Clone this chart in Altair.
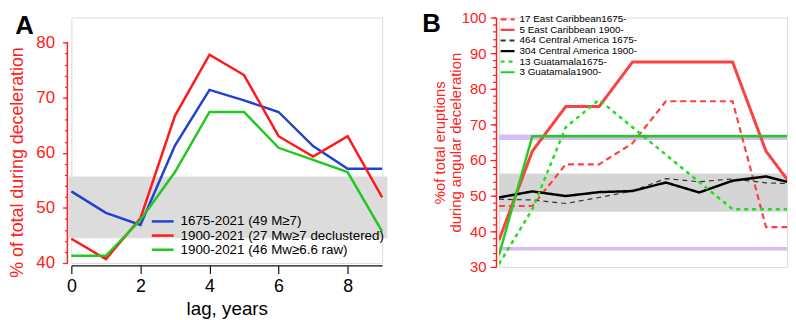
import altair as alt
import pandas as pd

FONT = "Liberation Sans"
RED = "#ff2020"

lag = [0, 1, 2, 3, 4, 5, 6, 7, 8, 9]

# ---------------- Panel A ----------------
a_series = ["1675-2021 (49 M≥7)", "1900-2021 (27 Mw≥7 declustered)", "1900-2021 (46 Mw≥6.6 raw)"]
a_1675 = [53.0, 49.1, 46.9, 61.3, 71.4, 69.5, 67.4, 61.2, 57.1, 57.1]
a_1900_decl = [44.4, 40.7, 48.1, 66.7, 77.8, 74.1, 63.0, 59.3, 63.0, 51.9]
a_1900_raw = [41.3, 41.3, 47.8, 56.5, 67.4, 67.4, 60.9, 58.7, 56.5, 45.7]
a_colors = ["#2142d0", "#ff1a1a", "#22c822"]
a_band = [44.5, 55.7]
a_yticks = [40, 50, 60, 70, 80]
a_yminor = list(range(40, 81, 2))
a_xticks = [0, 2, 4, 6, 8]

# ---------------- Panel B ----------------
b_series = ["17  East Caribbean1675-", "5  East Caribbean 1900-", "464 Central America 1675-",
            "304 Central America 1900-", "13 Guatamala1675-", "3 Guatamala1900-"]
b_ec1675 = [47.1, 47.1, 58.8, 58.8, 64.7, 76.5, 76.5, 76.5, 41.2, 41.2]
b_ec1900 = [37.5, 62.5, 75.0, 75.0, 87.5, 87.5, 87.5, 87.5, 62.5, 50.0]
b_ca1675 = [49.0, 48.8, 47.8, 49.5, 51.3, 54.8, 53.9, 54.7, 53.6, 53.3]
b_ca1900 = [49.5, 51.2, 49.9, 51.0, 51.3, 53.7, 50.9, 54.2, 55.4, 53.0]
b_gu1675 = [30.8, 46.2, 69.2, 76.9, 69.2, 61.5, 53.8, 46.2, 46.2, 46.2]
b_gu1900 = [33.3, 66.7, 66.7, 66.7, 66.7, 66.7, 66.7, 66.7, 66.7, 66.7]
b_colors = ["#ff4040", "#ff4040", "#333333", "#000000", "#22dd22", "#22cc22"]
b_dash = [[6, 4], [1, 0], [5, 4], [1, 0], [4, 4], [1, 0]]
b_widths = [2.2, 3.0, 1.2, 2.5, 2.5, 2.5]
b_band = [45.5, 56.2]
b_purple_hi = [65.6, 67.2]
b_purple_lo = [34.6, 35.6]
b_yticks = [30, 40, 50, 60, 70, 80, 90, 100]
b_yminor = list(range(30, 101, 2))
b_xticks = [0, 2, 4, 6, 8]


def long_df(names, arrays):
    rows = []
    for name, vals in zip(names, arrays):
        for x, v in zip(lag, vals):
            rows.append({"lag": x, "value": v, "series": name})
    return pd.DataFrame(rows)


def band_df(lohi):
    return pd.DataFrame({"lo": [lohi[0]], "hi": [lohi[1]]})


def legend_df(names):
    return pd.DataFrame({"series": names, "i": list(range(len(names)))})


# ---------------- build A ----------------
A_W, A_H = 314, 248
a_yscale = alt.Scale(domain=[40, 84.54], nice=False, zero=False)
a_xscale = alt.Scale(domain=[0, 9], nice=False, zero=False)
a_cscale = alt.Scale(domain=a_series, range=a_colors)

a_df = long_df(a_series, [a_1675, a_1900_decl, a_1900_raw])

a_minor_axis = alt.Axis(values=a_yminor, orient="left", offset=4, tickSize=3, tickColor=RED,
                        tickWidth=1.2, labels=False, domain=False, grid=False, title=None)
a_band_layer = alt.Chart(band_df(a_band)).mark_rect(color="#dcdcdc").encode(
    x=alt.value(-2.7), x2=alt.value(319.3),
    y=alt.Y("lo:Q", scale=a_yscale, axis=a_minor_axis), y2="hi:Q")

a_axis_rule = alt.Chart(pd.DataFrame({"lo": [a_yticks[0]], "hi": [a_yticks[-1]]})).mark_rule(
    color=RED, strokeWidth=1.5).encode(
    x=alt.value(-4), y=alt.Y("lo:Q", scale=a_yscale, axis=None), y2="hi:Q")

a_lines = alt.Chart(a_df).mark_line(strokeWidth=2.5).encode(
    x=alt.X("lag:Q", scale=a_xscale,
            axis=alt.Axis(values=a_xticks, orient="bottom", offset=2.5, tickSize=8, tickColor="#111",
                          tickWidth=1.2, domainColor="#111", domainWidth=1.2, labelFontSize=18,
                          labelColor="black", labelFont=FONT, labelPadding=4, labelFlush=False,
                          labelOverlap=False, grid=False, title="lag, years", titleFontSize=19,
                          titleFont=FONT, titleFontWeight="normal", titleColor="black",
                          titlePadding=5)),
    y=alt.Y("value:Q", scale=a_yscale,
            axis=alt.Axis(values=a_yticks, orient="left", offset=4, tickSize=5, tickColor=RED,
                          tickWidth=1.2, domain=False, labelFontSize=17, labelColor=RED,
                          labelFont=FONT, labelPadding=8, labelOverlap=False, grid=False,
                          title="% of total during deceleration", titleFontSize=18,
                          titleColor=RED, titleFont=FONT, titleFontWeight="normal",
                          titleAngle=270, titleBaseline="middle", titleAlign="center",
                          titleX=-50.2, titleY=146)),
    color=alt.Color("series:N", scale=a_cscale, legend=None),
)

# legend A (drawn from the series list)
a_leg = alt.Chart(legend_df(a_series)).transform_calculate(py="206 + 14.3 * datum.i")
a_leg_sym = a_leg.mark_rule(strokeWidth=2.5).encode(
    x=alt.value(81.3), x2=alt.value(103.3),
    y=alt.Y("py:Q", scale=None, axis=None),
    color=alt.Color("series:N", scale=a_cscale, legend=None))
a_leg_txt = a_leg.mark_text(align="left", baseline="middle", fontSize=13.5, font=FONT,
                            color="black").encode(
    x=alt.value(110.3), y=alt.Y("py:Q", scale=None, axis=None), text="series:N")

a_label = alt.Chart(pd.DataFrame({"t": ["A"]})).mark_text(
    text="A", fontSize=26, fontWeight="bold", font=FONT, align="left", baseline="alphabetic",
    color="black").encode(x=alt.value(-56.7), y=alt.value(17))

chart_a = alt.layer(a_band_layer, a_axis_rule, a_lines, a_leg_sym, a_leg_txt, a_label).resolve_axis(
    y="independent").properties(width=A_W, height=A_H)

# ---------------- build B ----------------
B_W, B_H = 291, 252
b_yscale = alt.Scale(domain=[30, 100], nice=False, zero=False)
b_xscale = alt.Scale(domain=[0, 8.63], nice=False, zero=False)
b_cscale = alt.Scale(domain=b_series, range=b_colors)
b_dscale = alt.Scale(domain=b_series, range=b_dash)

b_df = long_df(b_series, [b_ec1675, b_ec1900, b_ca1675, b_ca1900, b_gu1675, b_gu1900])

b_minor_axis = alt.Axis(values=b_yminor, orient="left", offset=3, tickSize=3.5, tickColor=RED,
                        tickWidth=1.2, labels=False, domain=False, grid=False, title=None)
b_band_layer = alt.Chart(band_df(b_band)).mark_rect(color="#d5d5d5").encode(
    x=alt.value(0), x2=alt.value(B_W),
    y=alt.Y("lo:Q", scale=b_yscale, axis=b_minor_axis), y2="hi:Q")
b_purple_layer = alt.Chart(pd.DataFrame({"lo": [b_purple_hi[0], b_purple_lo[0]],
                                         "hi": [b_purple_hi[1], b_purple_lo[1]]})).mark_rect(
    color="#d6bdf3").encode(
    x=alt.value(0), x2=alt.value(B_W),
    y=alt.Y("lo:Q", scale=b_yscale, axis=None), y2="hi:Q")

b_xaxis = alt.Axis(values=b_xticks, orient="bottom", offset=2, tickSize=7, tickColor="#111",
                   tickWidth=1.2, domainColor="#111", domainWidth=1.2, labelFontSize=17,
                   labelColor="black", labelFont=FONT, labelPadding=3, labelFlush=False,
                   labelOverlap=False, grid=False,
                   title="deceleration-eruption lag, years", titleFontSize=16,
                   titleFont=FONT, titleFontWeight="normal", titleColor="black",
                   titlePadding=4, titleX=151)
b_yaxis = alt.Axis(values=b_yticks, orient="left", offset=3, tickSize=6, tickColor=RED,
                   tickWidth=1.2, domainColor=RED, domainWidth=1.5, labelFontSize=15,
                   labelColor=RED, labelFont=FONT, labelPadding=4, labelOverlap=False,
                   grid=False, title=["%of total eruptions", "during angular deceleration"],
                   titleFontSize=15, titleLineHeight=16.5, titleColor=RED, titleFont=FONT,
                   titleFontWeight="normal", titleAngle=270, titleBaseline="middle",
                   titleAlign="center", titleX=-57.5, titleY=126)

b_line_layers = []
for i, name in enumerate(b_series):
    b_line_layers.append(
        alt.Chart(b_df).transform_filter(alt.datum.series == name).mark_line(
            clip=True, strokeWidth=b_widths[i]).encode(
            x=alt.X("lag:Q", scale=b_xscale, axis=b_xaxis if i == 0 else None),
            y=alt.Y("value:Q", scale=b_yscale, axis=b_yaxis if i == 0 else None),
            color=alt.Color("series:N", scale=b_cscale, legend=None),
            strokeDash=alt.StrokeDash("series:N", scale=b_dscale, legend=None),
        )
    )

# legend B (drawn from the series list)
b_leg = alt.Chart(legend_df(b_series)).transform_calculate(py="1.8 + 10.7 * datum.i")
b_leg_sym = b_leg.mark_rule(strokeWidth=2.2).encode(
    x=alt.value(1.7), x2=alt.value(15.7),
    y=alt.Y("py:Q", scale=None, axis=None),
    color=alt.Color("series:N", scale=b_cscale, legend=None),
    strokeDash=alt.StrokeDash("series:N", scale=b_dscale, legend=None))
b_leg_txt = b_leg.mark_text(align="left", baseline="middle", fontSize=10, font=FONT,
                            color="black").encode(
    x=alt.value(20.7), y=alt.Y("py:Q", scale=None, axis=None), text="series:N")

b_label = alt.Chart(pd.DataFrame({"t": ["B"]})).mark_text(
    text="B", fontSize=26, fontWeight="bold", font=FONT, align="left", baseline="alphabetic",
    color="black").encode(x=alt.value(-77.5), y=alt.value(15))

chart_b = alt.layer(b_band_layer, b_purple_layer, *b_line_layers, b_leg_sym, b_leg_txt,
                    b_label).resolve_axis(y="independent").properties(width=B_W, height=B_H)

chart = alt.hconcat(chart_a, chart_b, spacing=118, bounds="flush").resolve_scale(
    color="independent", strokeDash="independent").properties(
    padding=0, background="white").configure_view(stroke=None).configure(font=FONT)

chart.save("out.html", embed_options={"renderer": "svg", "actions": False})
